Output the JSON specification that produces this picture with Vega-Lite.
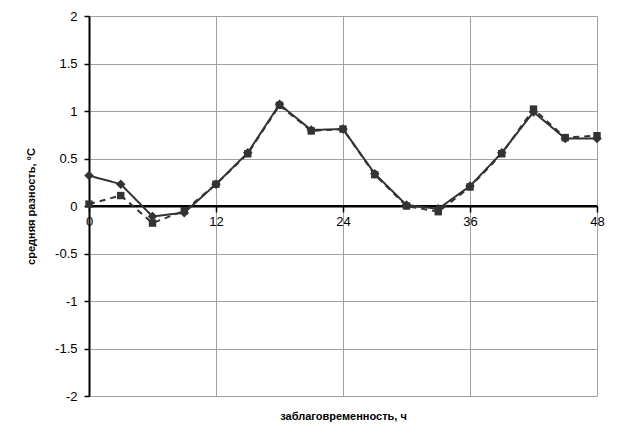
{
  "$schema": "https://vega.github.io/schema/vega-lite/v6.json",
  "width": 508,
  "height": 380,
  "autosize": "none",
  "padding": {"left": 89, "top": 16, "right": 31, "bottom": 38},
  "background": "white",
  "config": {
    "view": {"stroke": null},
    "font": "Liberation Sans",
    "axis": {"labelFont": "Liberation Sans", "titleFont": "Liberation Sans"}
  },
  "data": {
    "values": [
      {"t": 0, "v": 0.32, "s": "A"}, {"t": 3, "v": 0.23, "s": "A"}, {"t": 6, "v": -0.11, "s": "A"}, {"t": 9, "v": -0.07, "s": "A"},
      {"t": 12, "v": 0.23, "s": "A"}, {"t": 15, "v": 0.56, "s": "A"}, {"t": 18, "v": 1.07, "s": "A"}, {"t": 21, "v": 0.8, "s": "A"},
      {"t": 24, "v": 0.81, "s": "A"}, {"t": 27, "v": 0.34, "s": "A"}, {"t": 30, "v": 0.01, "s": "A"}, {"t": 33, "v": -0.03, "s": "A"},
      {"t": 36, "v": 0.21, "s": "A"}, {"t": 39, "v": 0.56, "s": "A"}, {"t": 42, "v": 0.99, "s": "A"}, {"t": 45, "v": 0.71, "s": "A"},
      {"t": 48, "v": 0.71, "s": "A"},
      {"t": 0, "v": 0.02, "s": "B"}, {"t": 3, "v": 0.11, "s": "B"}, {"t": 6, "v": -0.18, "s": "B"}, {"t": 9, "v": -0.05, "s": "B"},
      {"t": 12, "v": 0.23, "s": "B"}, {"t": 15, "v": 0.55, "s": "B"}, {"t": 18, "v": 1.06, "s": "B"}, {"t": 21, "v": 0.79, "s": "B"},
      {"t": 24, "v": 0.81, "s": "B"}, {"t": 27, "v": 0.33, "s": "B"}, {"t": 30, "v": 0.0, "s": "B"}, {"t": 33, "v": -0.06, "s": "B"},
      {"t": 36, "v": 0.2, "s": "B"}, {"t": 39, "v": 0.55, "s": "B"}, {"t": 42, "v": 1.02, "s": "B"}, {"t": 45, "v": 0.72, "s": "B"},
      {"t": 48, "v": 0.74, "s": "B"}
    ]
  },
  "encoding": {
    "x": {
      "field": "t", "type": "quantitative",
      "scale": {"domain": [0, 48], "nice": false, "zero": false},
      "axis": {
        "values": [0, 12, 24, 36, 48],
        "offset": -190,
        "title": "заблаговременность, ч",
        "titleFontWeight": "bold", "titleFontSize": 11, "titleColor": "#000",
        "titleY": 204,
        "labelFontSize": 13, "labelColor": "#000", "labelPadding": 3,
        "domainColor": "#000", "domainWidth": 2,
        "tickColor": "#000", "tickWidth": 1.5, "tickSize": 6,
        "grid": true, "gridColor": "#a0a0a0", "gridWidth": 1,
        "labelFlush": false
      }
    },
    "y": {
      "field": "v", "type": "quantitative",
      "scale": {"domain": [-2, 2], "nice": false},
      "axis": {
        "values": [-2, -1.5, -1, -0.5, 0, 0.5, 1, 1.5, 2],
        "labelExpr": "datum.value + ''",
        "title": "средняя разность, °С",
        "titleFontWeight": "bold", "titleFontSize": 11, "titleColor": "#000",
        "titlePadding": 18,
        "labelFontSize": 13, "labelColor": "#000", "labelPadding": 7,
        "domainColor": "#000", "domainWidth": 2,
        "tickColor": "#000", "tickWidth": 1.5, "tickSize": 5,
        "grid": true, "gridColor": "#a0a0a0", "gridWidth": 1
      }
    }
  },
  "layer": [
    {
      "mark": {"type": "rule", "color": "#000", "strokeWidth": 2},
      "encoding": {"y": {"datum": 0}, "x": null}
    },
    {
      "mark": {"type": "line", "color": "#333", "strokeWidth": 2},
      "encoding": {
        "detail": {"field": "s"},
        "strokeDash": {"field": "s", "type": "nominal", "scale": {"domain": ["A", "B"], "range": [[1, 0], [6, 5]]}, "legend": null},
        "order": {"field": "t"}
      }
    },
    {
      "mark": {"type": "point", "filled": true, "color": "#333", "opacity": 1},
      "encoding": {
        "shape": {"field": "s", "type": "nominal", "scale": {"domain": ["A", "B"], "range": ["diamond", "square"]}, "legend": null},
        "size": {"field": "s", "type": "nominal", "scale": {"domain": ["A", "B"], "range": [90, 55]}, "legend": null}
      }
    }
  ]
}
